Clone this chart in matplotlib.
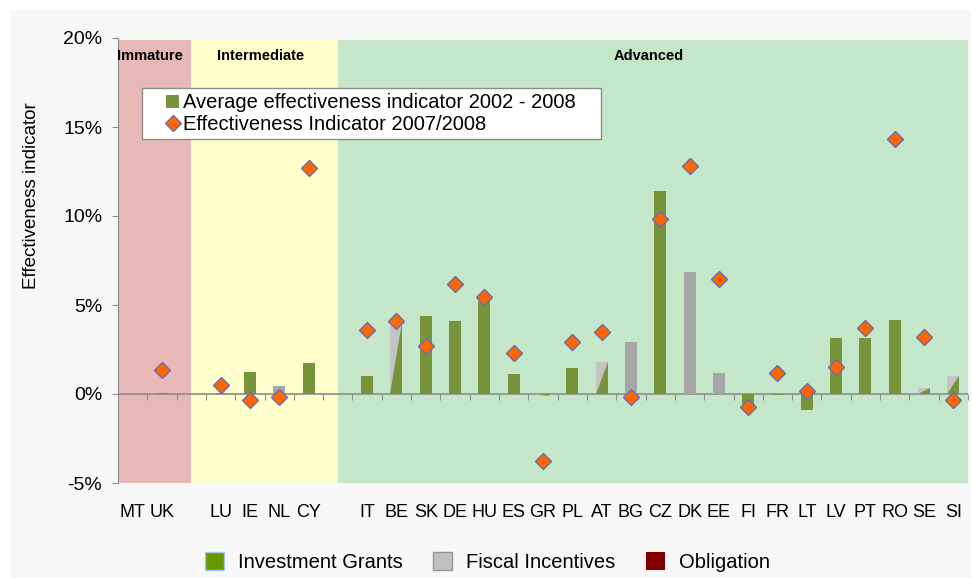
import numpy as np
import matplotlib
matplotlib.use("Agg")
from matplotlib import pyplot as plt
from matplotlib.patches import Patch, Rectangle
from matplotlib.lines import Line2D
from matplotlib.ticker import FuncFormatter

plt.rcParams['font.family'] = ['Liberation Sans', 'DejaVu Sans']

# country groups (market maturity)
immature = ['MT', 'UK']
intermediate = ['LU', 'IE', 'NL', 'CY']
advanced = ['IT', 'BE', 'SK', 'DE', 'HU', 'ES', 'GR', 'PL', 'AT', 'BG', 'CZ',
            'DK', 'EE', 'FI', 'FR', 'LT', 'LV', 'PT', 'RO', 'SE', 'SI']
group_names = ['Immature', 'Intermediate', 'Advanced']

# values in percent
avg_0208 = [np.nan, 0.05,
            0.05, 1.25, 0.47, 1.76,
            1.0, 4.06, 4.4, 4.1, 5.2, 1.14, -0.1, 1.48, 1.8, 2.9, 11.4,
            6.87, 1.2, -0.7, -0.05, -0.92, 3.16, 3.16, 4.16, 0.36, 1.0]
ind_0708 = [np.nan, 1.33,
            0.5, -0.32, -0.17, 12.7,
            3.6, 4.1, 2.7, 6.2, 5.45, 2.3, -3.75, 2.9, 3.5, -0.15, 9.85,
            12.8, 6.47, -0.75, 1.2, 0.15, 1.5, 3.7, 14.3, 3.2, -0.32]
# main support instrument: IG = investment grants, FI = fiscal incentives, mix = both
instrument = ['', 'IG',
              'IG', 'IG', 'FI', 'IG',
              'IG', 'mix', 'IG', 'IG', 'IG', 'IG', 'mix', 'IG', 'mix', 'FI', 'IG',
              'FI', 'FI', 'IG', 'IG', 'IG', 'IG', 'IG', 'IG', 'mix', 'mix']

green = '#77933c'
gray = '#a6a6a6'
lightgray = '#c3c3c3'

# positions, with one empty slot between groups
groups = [immature, intermediate, advanced]
labels, xpos, spans = [], [], []
pos = 0
for g in groups:
    start = pos
    for c in g:
        labels.append(c)
        xpos.append(pos)
        pos += 1
    spans.append((start, pos - 1))
    pos += 1
xpos = np.array(xpos)
nslots = pos - 1

fig = plt.figure(figsize=(9.72, 5.78), dpi=100)
fig.patch.set_facecolor('white')
fig.patches.append(Rectangle((10 / 972, 0), 961 / 972, 568 / 578, transform=fig.transFigure,
                             facecolor='#f7f7f7', edgecolor='none', zorder=-10))
ax = fig.add_axes([118 / 972, 95 / 578, 850 / 972, 445 / 578])
ax.set_facecolor('none')

ax.set_xlim(-0.5, nslots - 0.5)
ax.set_ylim(-5, 20)

# maturity regions
region_colors = ['#e6b8b7', '#ffffcc', '#c4e7c9']
edges = [-0.5]
for s in spans[:-1]:
    edges.append(s[1] + 1.0)
edges.append(nslots - 0.5)
for i, name in enumerate(group_names):
    ax.axvspan(edges[i], edges[i + 1], ymax=0.996, color=region_colors[i], lw=0, zorder=0)
    ax.text((edges[i] + edges[i + 1]) / 2 - 0.15, 19.0, name, ha='center', va='center',
            fontsize=10.5, fontweight='bold', zorder=5)

ax.axhline(0, color='#8c8c8c', lw=1.2, zorder=1)

w = 0.41
for x, v, ins in zip(xpos, avg_0208, instrument):
    if np.isnan(v):
        continue
    if ins == 'IG':
        ax.bar(x, v, width=w, color=green, zorder=2)
    elif ins == 'FI':
        ax.bar(x, v, width=w, color=gray, zorder=2)
    else:
        ax.bar(x, v, width=w, color=lightgray, zorder=2)
        ax.fill([x - w / 2, x + w / 2, x + w / 2], [0, 0, v], color=green, lw=0, zorder=3)

ax.plot(xpos, ind_0708, ls='none', marker='D', markersize=8, markerfacecolor='#ff6600',
        markeredgecolor='#6b6bb0', markeredgewidth=1.0, zorder=4)

# axes styling
for s in ['top', 'right', 'bottom']:
    ax.spines[s].set_visible(False)
ax.spines['left'].set_color('#8c8c8c')
ax.set_yticks([-5, 0, 5, 10, 15, 20])
ax.yaxis.set_major_formatter(FuncFormatter(lambda v, p: '{:.0f}%'.format(v)))
ax.tick_params(axis='y', direction='out', length=4.3, color='#8c8c8c', labelsize=14, pad=7)
ax.set_xticks(xpos)
ax.set_xticklabels(labels)
ax.tick_params(axis='x', length=0, labelsize=13, pad=15)

sec = ax.secondary_xaxis(0.2)
sec.set_xticks(np.arange(0.5, nslots, 1.0))
sec.set_xticklabels([])
sec.tick_params(direction='out', length=4, color='#8c8c8c')
sec.spines['bottom'].set_visible(False)

ax.set_ylabel('Effectiveness indicator', fontsize=13.5)
ax.yaxis.set_label_coords(-0.092, 0.645)

# series legend with its own box
ax.add_patch(Rectangle((0.0282, 0.773), 0.540, 0.1146, transform=ax.transAxes,
                       facecolor='white', edgecolor='#8c8c8c', lw=1.0, zorder=6))
leg_handles = [Patch(facecolor=green, edgecolor='none'),
               Line2D([], [], ls='none', marker='D', markersize=8, markerfacecolor='#ff6600',
                      markeredgecolor='#6b6bb0')]
leg = ax.legend(leg_handles, ['Average effectiveness indicator 2002 - 2008',
                              'Effectiveness Indicator 2007/2008'],
                loc='center left', bbox_to_anchor=(0.0565, 0.830), borderaxespad=0,
                borderpad=0, fontsize=14.5, frameon=False, handlelength=0.65,
                handleheight=0.65, handletextpad=0.2, labelspacing=0.12)
leg.set_zorder(7)

bottom_handles = [Patch(facecolor='#669900', edgecolor='#a9c4eb'),
                  Patch(facecolor='#c0c0c0', edgecolor='#969696'),
                  Patch(facecolor='#800000', edgecolor='none')]
fig.legend(bottom_handles, ['Investment Grants', 'Fiscal Incentives', 'Obligation'],
           loc='center', bbox_to_anchor=(0.5016, 0.0277), ncol=3, frameon=False,
           fontsize=14.5, handlelength=0.95, handleheight=0.95, handletextpad=0.7,
           columnspacing=1.5, borderpad=0)

fig.savefig('out.png', dpi=100)
